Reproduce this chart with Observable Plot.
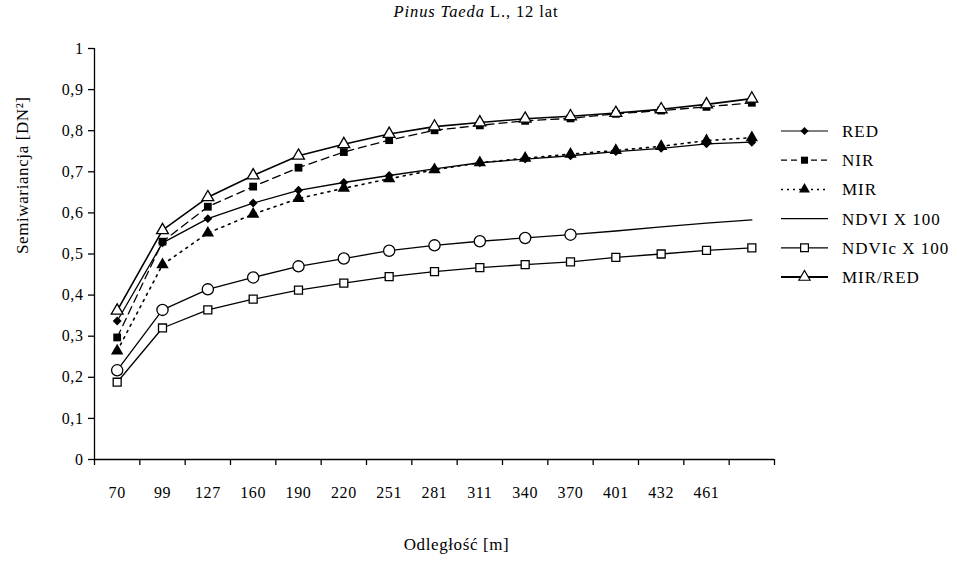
<!DOCTYPE html>
<html><head><meta charset="utf-8">
<script src="https://cdn.jsdelivr.net/npm/d3@7"></script>
<script src="https://cdn.jsdelivr.net/npm/@observablehq/plot@0.6"></script>
<style>body{margin:0;background:#fff} svg{display:block}</style>
</head><body><div id="chart"></div>
<script>
// Distance categories (the last point has no printed label)
const distances = ["70","99","127","160","190","220","251","281","311","340","370","401","432","461",""];
const yTicks = [0,0.1,0.2,0.3,0.4,0.5,0.6,0.7,0.8,0.9,1];
const seriesNames = ["RED","NIR","MIR","NDVI X 100","NDVIc X 100","MIR/RED"];
const red    = [0.337,0.527,0.586,0.624,0.655,0.674,0.691,0.707,0.722,0.731,0.739,0.749,0.757,0.768,0.772];
const nir    = [0.297,0.530,0.615,0.664,0.710,0.748,0.777,0.801,0.813,0.824,0.830,0.841,0.849,0.858,0.868];
const mir    = [0.264,0.474,0.551,0.597,0.635,0.660,0.683,0.705,0.722,0.733,0.743,0.752,0.762,0.776,0.783];
const ndvi   = [0.217,0.364,0.414,0.443,0.470,0.489,0.508,0.521,0.531,0.539,0.547,0.556,0.566,0.575,0.583];
const ndvic  = [0.188,0.320,0.364,0.390,0.412,0.429,0.445,0.457,0.467,0.474,0.481,0.492,0.500,0.509,0.515];
const mirRed = [0.362,0.558,0.638,0.691,0.739,0.767,0.792,0.810,0.820,0.829,0.835,0.843,0.852,0.864,0.878];
const ndviMarkerCount = 11; // circles are drawn only up to 370 m

const allValues = [red, nir, mir, ndvi, ndvic, mirRed];
const rows = (k) => allValues[k].map((v, i) => ({i: i + 0.5, v, s: seriesNames[k]}));

const ink = "#000";
const font = "'Liberation Serif', 'DejaVu Serif', serif";

const W = 958, H = 565;
const mL = 94, mR = 184, mT = 48, mB = 106;

const plot = Plot.plot({
  width: W, height: H,
  marginLeft: mL, marginRight: mR, marginTop: mT, marginBottom: mB,
  style: {fontFamily: font, fontSize: "16px", color: ink, background: "#fff", letterSpacing: "0.6px"},
  x: {type: "linear", domain: [0, distances.length]},
  y: {type: "linear", domain: [0, 1]},
  marks: [
    Plot.ruleX([0], {stroke: ink, strokeWidth: 1.3}),
    Plot.ruleY([0], {stroke: ink, strokeWidth: 1.3}),
    Plot.axisY({ticks: yTicks, tickSize: 6, tickPadding: 5, label: null, fontSize: 16,
      tickFormat: d => d === 0 ? "0" : d === 1 ? "1" : d.toFixed(1).replace(".", ","), strokeWidth: 1.3}),
    Plot.axisX({ticks: d3.range(distances.length + 1), tickSize: 6, tickFormat: () => "", label: null, strokeWidth: 1.3}),
    Plot.axisX({ticks: d3.range(distances.length).map(i => i + 0.5), tickSize: 0, tickPadding: 27, fontSize: 16,
      tickFormat: d => distances[Math.floor(d)], label: null}),
    // series lines
    Plot.line(rows(0), {x: "i", y: "v", stroke: ink, strokeWidth: 1.3}),
    Plot.line(rows(1), {x: "i", y: "v", stroke: ink, strokeWidth: 1.3, strokeDasharray: "8,5"}),
    Plot.line(rows(2), {x: "i", y: "v", stroke: ink, strokeWidth: 1.6, strokeDasharray: "2,5"}),
    Plot.line(rows(3), {x: "i", y: "v", stroke: ink, strokeWidth: 1.3}),
    Plot.line(rows(4), {x: "i", y: "v", stroke: ink, strokeWidth: 1.3}),
    Plot.line(rows(5), {x: "i", y: "v", stroke: ink, strokeWidth: 1.6}),
    // markers
    Plot.dot(rows(0), {x: "i", y: "v", symbol: "diamond2", r: 4.0, fill: ink, stroke: "none"}),
    Plot.dot(rows(1), {x: "i", y: "v", symbol: "square", r: 4.4, fill: ink, stroke: "none"}),
    Plot.dot(rows(2), {x: "i", y: "v", symbol: "triangle", r: 4.6, fill: ink, stroke: "none"}),
    Plot.dot(rows(3).slice(0, ndviMarkerCount), {x: "i", y: "v", symbol: "circle", r: 5.6, fill: "#fff", stroke: ink, strokeWidth: 1.3}),
    Plot.dot(rows(4), {x: "i", y: "v", symbol: "square", r: 4.5, fill: "#fff", stroke: ink, strokeWidth: 1.3}),
    Plot.dot(rows(5), {x: "i", y: "v", symbol: "triangle", r: 4.4, fill: "#fff", stroke: ink, strokeWidth: 1.3}),
    // axis titles
    Plot.text(["Odległość [m]"], {frameAnchor: "bottom", dx: 22, dy: 90, text: d => d, fontSize: 17, fill: ink}),
    Plot.text(["Semiwariancja [DN²]"], {frameAnchor: "left", dx: -72, rotate: -90, text: d => d, fontSize: 17, fill: ink})
  ]
});

document.getElementById("chart").appendChild(plot);
const svg = d3.select(plot);

// Title with italic species name
const title = svg.append("text").attr("x", 476).attr("y", 17)
  .attr("text-anchor", "middle").attr("font-family", font).attr("font-size", 16.5)
  .attr("letter-spacing", "0.9px").attr("fill", ink);
title.append("tspan").attr("font-style", "italic").text("Pinus Taeda");
title.append("tspan").text(" L., 12 lat");

// Legend
const legendSpec = [
  {dash: null, sym: d3.symbolDiamond2, size: 42, fill: ink, w: 1.2},
  {dash: "6,4", sym: d3.symbolSquare, size: 50, fill: ink, w: 1.2},
  {dash: "2,4", sym: d3.symbolTriangle, size: 52, fill: ink, w: 1.5},
  {dash: null, sym: null, w: 1.2},
  {dash: null, sym: d3.symbolSquare, size: 60, fill: "#fff", w: 1.2},
  {dash: null, sym: d3.symbolTriangle, size: 55, fill: "#fff", w: 2}
];
const lg = svg.append("g").attr("font-family", font).attr("font-size", 17)
  .attr("letter-spacing", "1px").attr("text-anchor", "start").attr("fill", ink);
const ly0 = 131, lstep = 29.2, lx0 = 781, lx1 = 828, ltx = 842;
seriesNames.forEach((name, k) => {
  const y = ly0 + k * lstep, s = legendSpec[k];
  lg.append("line").attr("x1", lx0).attr("x2", lx1).attr("y1", y).attr("y2", y)
    .attr("stroke", ink).attr("stroke-width", s.w).attr("stroke-dasharray", s.dash);
  if (s.sym) lg.append("path").attr("d", d3.symbol(s.sym, s.size)())
    .attr("transform", `translate(${(lx0 + lx1) / 2},${y})`)
    .attr("fill", s.fill).attr("stroke", s.fill === "#fff" ? ink : "none").attr("stroke-width", 1.2);
  lg.append("text").attr("x", ltx).attr("y", y).attr("dy", "0.35em").attr("text-anchor", "start").text(name);
});
</script>
</body></html>
